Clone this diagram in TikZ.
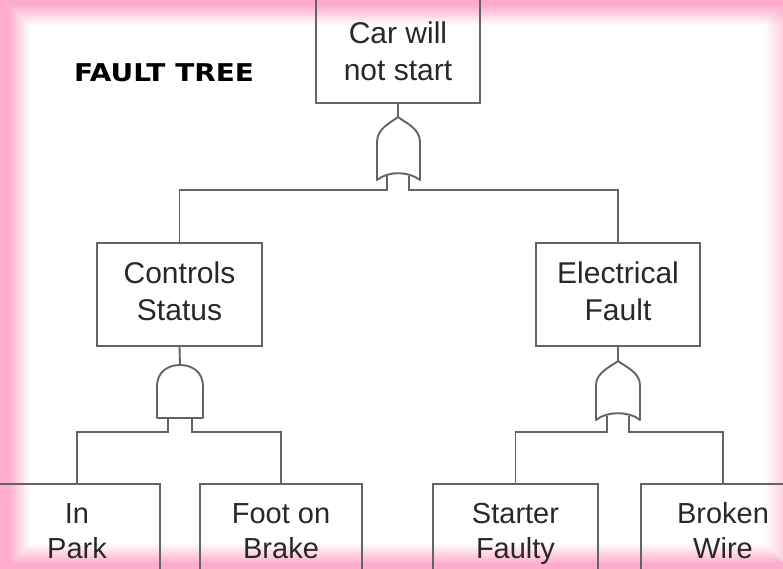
\documentclass[tikz,border=0pt]{standalone}
\usepackage{fontspec}
\setmainfont{Liberation Sans}
\newfontfamily\titlefont[FakeStretch=1.14]{DejaVu Sans}
\definecolor{pinkb}{RGB}{255,172,204}
\definecolor{linegray}{RGB}{100,100,100}
\definecolor{txtgray}{RGB}{40,40,40}
\tikzset{
  line/.style={draw=linegray, line width=1.9pt},
  box/.style={line, align=center, text=txtgray,
    font=\fontsize{30}{37}\selectfont, inner sep=0pt},
  leafbox/.style={box, font=\fontsize{29}{35}\selectfont},
  boxtext/.style={align=center, text=txtgray,
    font=\fontsize{30}{37}\selectfont, inner sep=0pt},
  gate/.style={line, fill=white, line join=round}
}
\begin{document}
\begin{tikzpicture}[x=1pt,y=-1pt]
\useasboundingbox (0,0) rectangle (783,569);
\fill[white] (0,0) rectangle (783,569);
% ---- pink glow border
\fill[pinkb] (0,0) rectangle (10,569);
\fill[pinkb] (0,0) rectangle (783,6);
\fill[pinkb] (0,563) rectangle (783,569);
\foreach \i in {0,...,9}{
  \pgfmathsetmacro\op{1-(\i+1)/10.5}
  \fill[pinkb, opacity=\op] (10+2*\i,6+2*\i) rectangle (12+2*\i,563-2*\i);
  \fill[pinkb, opacity=\op] (12+2*\i,6+2*\i) rectangle (783,8+2*\i);
  \fill[pinkb, opacity=0.55*\op] (781-2*\i,8+2*\i) rectangle (783-2*\i,561-2*\i);
  \fill[pinkb, opacity=\op] (12+2*\i,561-2*\i) rectangle (783-2*\i,563-2*\i);
}
% ---- title
\node[font=\titlefont\bfseries\fontsize{24.5}{28}\selectfont] (title) at (164,73) {FAULT TREE};
% ---- boxes
\node[box, minimum width=164pt, minimum height=115pt] (top) at (398,45.5) {};
\node[boxtext] (toplabel) at (398,55) {Car will\strut\\not start\strut};
\node[box, minimum width=165pt, minimum height=103pt] (cs) at (179.5,294.5) {Controls\strut\\Status\strut};
\node[box, minimum width=164pt, minimum height=103pt] (ef) at (618,294.5) {Electrical\strut\\Fault\strut};
\node[leafbox, minimum width=166pt, minimum height=100pt] (ip) at (77,534) {In\strut\\Park\strut};
\node[leafbox, minimum width=162pt, minimum height=100pt] (fb) at (281,534) {Foot on\strut\\Brake\strut};
\node[leafbox, minimum width=165pt, minimum height=100pt] (sf) at (515.5,534) {Starter\strut\\Faulty\strut};
\node[leafbox, minimum width=164pt, minimum height=100pt] (bw) at (723,534) {Broken\strut\\Wire\strut};
% ---- top OR gate
\coordinate (g1) at (398,117);
\coordinate (g1l) at (387,176);
\coordinate (g1r) at (409,176);
\draw[gate] (g1) .. controls (392,122) and (377,128) .. (377,142) -- (377,180)
  .. controls (388,171) and (408,171) .. (420,180) -- (420,142)
  .. controls (420,128) and (404,122) .. (g1);
\draw[line] (top.south) -- (g1);
\draw[line] (g1l) -- ++(0,14) -| (cs.north);
\draw[line] (g1r) -- ++(0,14) -| (ef.north);
% ---- AND gate under Controls Status
\coordinate (g2) at (180,365);
\coordinate (g2l) at (168,418);
\coordinate (g2r) at (192,418);
\draw[gate] (157,418) -- (157,386) .. controls (157,372) and (168,365) .. (g2)
  .. controls (192,365) and (203,372) .. (203,386) -- (203,418) -- cycle;
\draw[line] (cs.south) -- (g2);
\draw[line] (g2l) -- ++(0,14) -| (ip.north);
\draw[line] (g2r) -- ++(0,14) -| (fb.north);
% ---- OR gate under Electrical Fault
\coordinate (g3) at (618,361);
\coordinate (g3l) at (607,416);
\coordinate (g3r) at (629,416);
\draw[gate] (g3) .. controls (612,366) and (596,372) .. (596,385) -- (596,420)
  .. controls (607,411) and (629,411) .. (640,420) -- (640,385)
  .. controls (640,372) and (624,366) .. (g3);
\draw[line] (ef.south) -- (g3);
\draw[line] (g3l) -- ++(0,16) -| (sf.north);
\draw[line] (g3r) -- ++(0,16) -| (bw.north);
\end{tikzpicture}
\end{document}
